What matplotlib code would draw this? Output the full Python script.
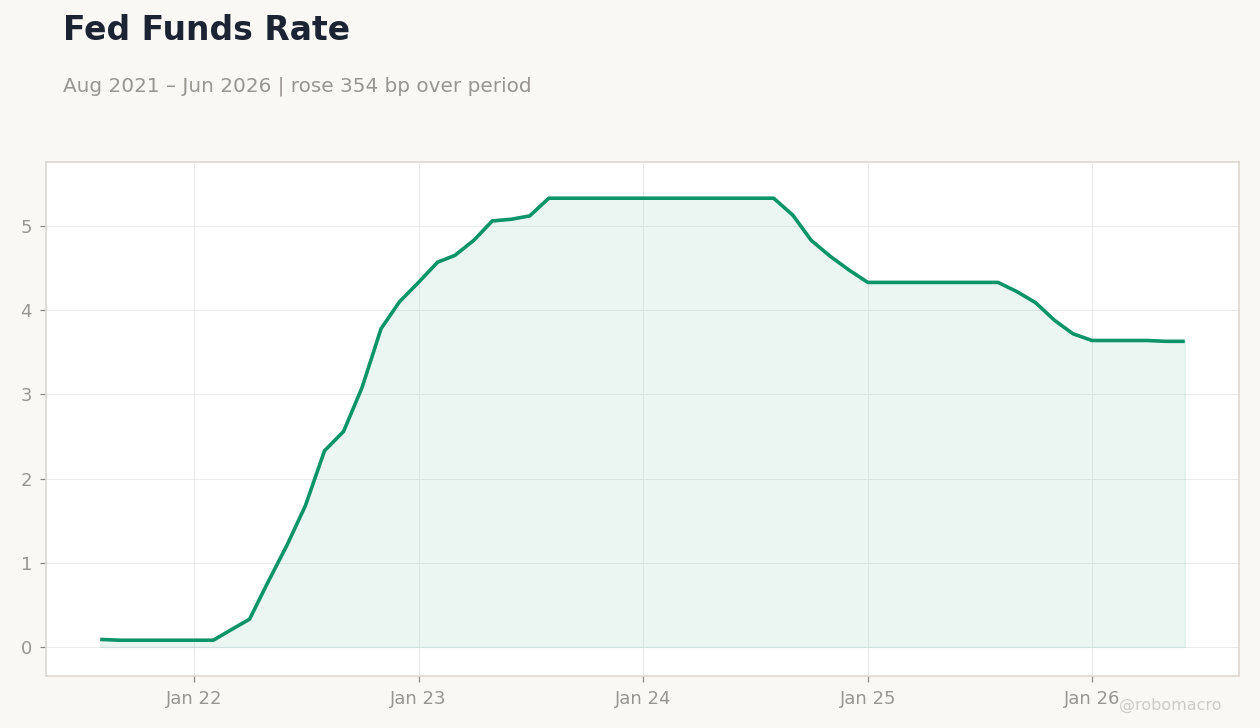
import pandas as pd
import matplotlib.pyplot as plt
import matplotlib.dates as mdates

# monthly effective fed funds rate, Aug 2021 - Jun 2026
months = pd.date_range("2021-08-01", "2026-06-01", freq="MS")
rate = [
    0.09, 0.08, 0.08, 0.08, 0.08,                     # Aug-Dec 2021
    0.08, 0.08, 0.20, 0.33, 0.77, 1.21, 1.68, 2.33,   # Jan-Aug 2022
    2.56, 3.08, 3.78, 4.10,                           # Sep-Dec 2022
    4.33, 4.57, 4.65, 4.83, 5.06, 5.08, 5.12, 5.33,   # Jan-Aug 2023
    5.33, 5.33, 5.33, 5.33,                           # Sep-Dec 2023
    5.33, 5.33, 5.33, 5.33, 5.33, 5.33, 5.33, 5.33,   # Jan-Aug 2024
    5.13, 4.83, 4.64, 4.48,                           # Sep-Dec 2024
    4.33, 4.33, 4.33, 4.33, 4.33, 4.33, 4.33, 4.33,   # Jan-Aug 2025
    4.22, 4.09, 3.88, 3.72,                           # Sep-Dec 2025
    3.64, 3.64, 3.64, 3.64, 3.63, 3.63,               # Jan-Jun 2026
]
title = "Fed Funds Rate"
subtitle = "Aug 2021 \u2013 Jun 2026 | rose 354 bp over period"

green = "#0a9467"
bg = "#f9f8f5"
muted = "#999590"

fig = plt.figure(figsize=(8.75, 728 / 144), dpi=144, facecolor=bg)
ax = fig.add_axes([46 / 1260, 1 - 676 / 728, (1239 - 46) / 1260, (676 - 162) / 728])
ax.set_facecolor("white")

ax.fill_between(months, 0, rate, color=green, alpha=0.08, linewidth=0.8)
ax.plot(months, rate, color=green, linewidth=1.8, solid_capstyle="butt")

ax.set_ylim(-0.345, 5.76)
ax.set_yticks([0, 1, 2, 3, 4, 5])
ax.xaxis.set_major_locator(mdates.YearLocator())
ax.xaxis.set_major_formatter(mdates.DateFormatter("Jan %y"))

ax.grid(True, color="#ebebeb", linewidth=0.5)
ax.set_axisbelow(True)
for s in ax.spines.values():
    s.set_color("#dcd7cf")
    s.set_linewidth(0.8)
ax.tick_params(colors=muted, labelsize=9, length=3, width=0.6, pad=4)
ax.tick_params(axis="both", color="#8a8580")

fig.text(63 / 1260, 1 - 31 / 728, title, fontsize=16.5, fontweight="bold",
         color="#1c2333", va="center")
fig.text(63 / 1260, 1 - 86 / 728, subtitle, fontsize=10, color=muted, va="center")
fig.text(1222 / 1260, 1 - 705 / 728, "@robomacro", fontsize=8, color="#cfccc8",
         ha="right", va="center")

fig.savefig("out.png", dpi=144, facecolor=bg)
